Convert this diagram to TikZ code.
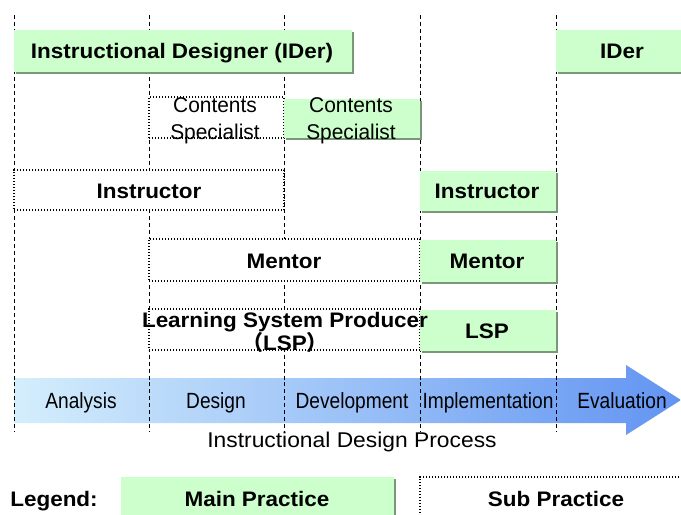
\documentclass[tikz,border=0pt]{standalone}
\usepackage{fontspec}
\setmainfont{Liberation Sans}
\newfontfamily\widefont[FakeStretch=1.07]{Liberation Sans}
\newfontfamily\stagefont[FakeStretch=0.87]{Liberation Sans}
\newfontfamily\procfont[FakeStretch=1.07]{Liberation Sans}
\newfontfamily\csfont[FakeStretch=0.98]{Liberation Sans}
\newfontfamily\cjk{Noto Sans CJK SC}
\usetikzlibrary{fit,shadows}
\definecolor{mfill}{RGB}{204,255,204}
\definecolor{mshadow}{RGB}{120,152,120}
\definecolor{arrowL}{RGB}{212,238,252}
\definecolor{arrowR}{RGB}{98,148,242}
\tikzset{
  rolefont/.style={font=\widefont\bfseries\fontsize{15.75pt}{18pt}\selectfont, inner sep=0pt, anchor=base},
  mainbox/.style={fill=mfill, draw=none, inner sep=0pt,
    drop shadow={shadow xshift=1.7pt, shadow yshift=-1.7pt, fill=mshadow, opacity=1}},
  subbox/.style={fill=white, draw=black, line width=0.9pt,
    dash pattern=on 0.9pt off 1.35pt, inner sep=0pt},
  phase/.style={line width=0.75pt, dash pattern=on 3pt off 2.2pt},
  stage/.style={font=\stagefont\fontsize{16.5pt}{18pt}\selectfont, inner sep=0pt, anchor=base},
  cstext/.style={font=\csfont\fontsize{16pt}{20.25pt}\selectfont, align=center, inner sep=0pt, anchor=base}
}
\begin{document}
\begin{tikzpicture}[x=0.75pt,y=-0.75pt]
\clip (0,0) rectangle (681,514);
\fill[white] (0,0) rectangle (681,514);

% process arrow
\shade[left color=arrowL, right color=arrowR]
  (14,378) -- (626,378) -- (626,365) -- (681,400) -- (626,435) -- (626,423) -- (14,423) -- cycle;

% phase boundaries
\foreach \x/\n in {14/a,149/b,284/c,420/d,556/e}{
  \coordinate (top\n) at (\x,15);
  \coordinate (bot\n) at (\x,432);
  \draw[phase] (top\n) -- (bot\n);
}

% instructional designer
\node[mainbox, fit={(14,30) (352,72)}] (ider) {};
\node[rolefont] (idert) at (182,58) {Instructional Designer (IDer)};
\node[mainbox, fit={(556,30) (690,72)}] (iderE) {};
\node[rolefont] (iderEt) at (622,58) {IDer};

% contents specialist (baseline of the last line)
\node[subbox, fit={(149,97) (284,138)}] (csD) {};
\node[mainbox, fit={(284,99) (420,138)}] (csM) {};
\node[cstext] (csDt) at (215,139) {Contents\\Specialist};
\node[cstext] (csMt) at (351,139) {Contents\\Specialist};

% instructor
\node[subbox, fit={(14,170) (284,210)}] (insD) {};
\node[rolefont] (insDt) at (149,198) {Instructor};
\node[mainbox, fit={(420,171) (556,211)}] (insM) {};
\node[rolefont] (insMt) at (487,198) {Instructor};

% mentor
\node[subbox, fit={(149,239) (420,281)}] (menD) {};
\node[rolefont] (menDt) at (284,268) {Mentor};
\node[mainbox, fit={(420,240) (556,282)}] (menM) {};
\node[rolefont] (menMt) at (487,268) {Mentor};

% learning system producer (baseline of the last line)
\node[subbox, fit={(149,309) (420,350)}] (lspD) {};
\node[mainbox, fit={(420,310) (556,351)}] (lspM) {};
\node[rolefont] (lspMt) at (487,338) {LSP};
\node[rolefont, align=center, font=\widefont\bfseries\fontsize{15.75pt}{17.25pt}\selectfont]
  (lspDt) at (285,350) {Learning System Producer\\{\cjk （}LSP{\cjk ）}};

% phases of the process
\node[stage] (s1) at (81,408) {Analysis};
\node[stage] (s2) at (216,408) {Design};
\node[stage] (s3) at (352,408) {Development};
\node[stage] (s4) at (488,408) {Implementation};
\node[stage] (s5) at (622,408) {Evaluation};
\node[font=\procfont\fontsize{16pt}{18pt}\selectfont, inner sep=0pt, anchor=base] (proc) at (352,447)
  {Instructional Design Process};

% legend
\node[rolefont] (leg) at (54,506) {Legend:};
\node[mainbox, fit={(121,477) (394,521)}] (legM) {};
\node[rolefont] (legMt) at (257,506) {Main Practice};
\node[subbox, fit={(420,477) (700,521)}] (legS) {};
\node[rolefont] (legSt) at (556,506) {Sub Practice};
\end{tikzpicture}
\end{document}
